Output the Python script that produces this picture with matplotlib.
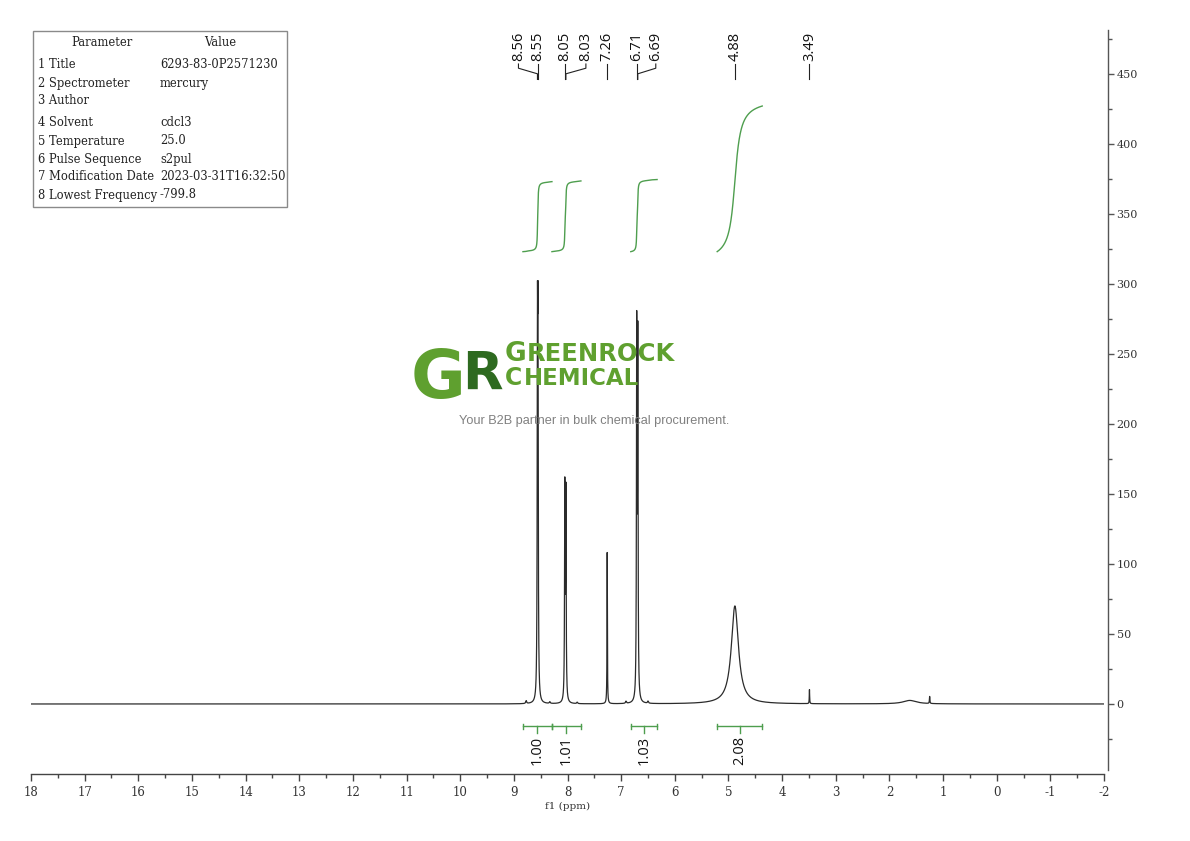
import numpy as np
import matplotlib
matplotlib.use("Agg")
import matplotlib.pyplot as plt
from matplotlib.ticker import FixedLocator, MultipleLocator
from matplotlib.patches import Rectangle

# ---------------- data ----------------
peak_ppm = [8.56, 8.55, 8.05, 8.03, 7.26, 6.71, 6.69, 4.88, 3.49, 1.62, 1.25,
            8.77, 8.33, 7.82, 6.91, 6.50]
peak_height = [236, 236, 150, 146, 108, 260, 252, 70, 10, 2.5, 5,
               2.0, 1.2, 1.0, 1.5, 1.5]
peak_hwhm = [0.006, 0.006, 0.006, 0.006, 0.004, 0.006, 0.006, 0.08, 0.004, 0.15, 0.005,
             0.01, 0.01, 0.01, 0.01, 0.01]

label_ppm = [8.56, 8.55, 8.05, 8.03, 7.26, 6.71, 6.69, 4.88, 3.49]

integral_start = [8.83, 8.29, 6.82, 5.21]
integral_end = [8.29, 7.75, 6.33, 4.37]
integral_value = [1.00, 1.01, 1.03, 2.08]

x_ticks = list(range(18, -3, -1))
y_ticks = list(range(0, 451, 50))

param_names = ["1 Title", "2 Spectrometer", "3 Author", "4 Solvent", "5 Temperature",
               "6 Pulse Sequence", "7 Modification Date", "8 Lowest Frequency"]
param_values = ["6293-83-0P2571230", "mercury", "", "cdcl3", "25.0",
                "s2pul", "2023-03-31T16:32:50", "-799.8"]

# ---------------- figure ----------------
W, H = 1190, 841
plt.rcParams["axes.unicode_minus"] = False
fig = plt.figure(figsize=(W / 100, H / 100), dpi=100)
fig.patch.set_facecolor("white")

def fx(px):
    return px / W

def fy(py):
    return 1 - py / H

ax_l, ax_r, ax_t, ax_b = 31, 1104, 29, 774
ax = fig.add_axes([fx(ax_l), fy(ax_b), (ax_r - ax_l) / W, (ax_b - ax_t) / H])
ax.set_xlim(18, -2)
ax.set_ylim(-50, 482)
ppm_per_px = 20 / (ax_r - ax_l)

# spectrum
x = np.linspace(18, -2, 40001)
y = np.zeros_like(x)
for p, h, g in zip(peak_ppm, peak_height, peak_hwhm):
    y += h / (1 + ((x - p) / g) ** 2)
ax.plot(x, y, color="#2b2b2b", lw=0.9, zorder=3)

# integrals
green = "#4e9e4e"
int_base = 323
int_scale = 50
yb = -16
for a, b, v in zip(integral_start, integral_end, integral_value):
    m = (x <= a) & (x >= b)
    xs = x[m]
    cum = np.cumsum(y[m])
    cum = cum / cum[-1]
    ax.plot(xs, int_base + int_scale * v * cum, color=green, lw=1.0, zorder=3)
    c = (a + b) / 2
    ax.plot([a, b], [yb, yb], color=green, lw=1.0)
    ax.plot([a, a], [yb - 2, yb + 2], color=green, lw=1.0)
    ax.plot([b, b], [yb - 2, yb + 2], color=green, lw=1.0)
    ax.plot([c, c], [yb, yb - 5], color=green, lw=1.0)
    ax.text(c, -23, f"{v:.2f}", rotation=90, ha="center", va="top",
            fontsize=10.5, family="Open Sans", color="#111")

# peak labels
shift_px = [-19, 0, 0, 20, 0, 0, 18, 0, 0]
for p, s in zip(label_ppm, shift_px):
    lx = p - s * ppm_per_px
    ax.text(lx, 459, f"{p:.2f}", rotation=90, ha="center", va="bottom",
            fontsize=10.5, family="Open Sans", color="#111")
    ax.plot([lx, lx, p, p], [457, 454, 450, 446], color="#222", lw=0.8)

# axes styling
for s in ["left", "top"]:
    ax.spines[s].set_visible(False)
ax.spines["bottom"].set_color("#444")
ax.spines["right"].set_color("#555")
ax.spines["right"].set_position(("outward", 3))
ax.spines["right"].set_bounds(-47, 481)
ax.spines["bottom"].set_linewidth(1.0)
ax.spines["right"].set_linewidth(1.0)

ax.set_xticks(x_ticks)
ax.set_xticklabels([str(t) for t in x_ticks])
ax.xaxis.set_minor_locator(MultipleLocator(0.5))
ax.tick_params(axis="x", which="major", direction="out", length=5, width=1,
               colors="#444", labelsize=8.5, pad=4)
ax.tick_params(axis="x", which="minor", direction="out", length=3, width=1, colors="#444")

ax.yaxis.tick_right()
ax.set_yticks(y_ticks)
ax.set_yticklabels([str(t) for t in y_ticks])
ax.yaxis.set_minor_locator(FixedLocator(list(range(-25, 480, 50))))
ax.tick_params(axis="y", which="major", direction="out", length=4, width=1,
               colors="#555", labelsize=8, pad=2)
ax.tick_params(axis="y", which="minor", direction="out", length=3, width=1, colors="#555")
for lab in ax.get_xticklabels() + ax.get_yticklabels():
    lab.set_family("DejaVu Serif")
    lab.set_color("#333")

ax.set_xlabel("f1 (ppm)", family="DejaVu Serif", fontsize=7.5, color="#333", labelpad=2)

# parameter table
fig.add_artist(Rectangle((fx(33), fy(207)), (287 - 33) / W, (207 - 31) / H,
                         transform=fig.transFigure, fill=False, ec="#8a8a8a", lw=1))
tfont = dict(family="DejaVu Serif", fontsize=8.3, color="#222", va="center")
fig.text(fx(102), fy(43), "Parameter", ha="center", **tfont)
fig.text(fx(220), fy(43), "Value", ha="center", **tfont)
row_y = [65, 83, 101, 123, 141, 159, 177, 195]
for ry, n, v in zip(row_y, param_names, param_values):
    fig.text(fx(38), fy(ry), n, ha="left", **tfont)
    fig.text(fx(160), fy(ry), v, ha="left", **tfont)

# watermark logo
lg = "#5fa02f"
dg = "#2e6a20"
fig.text(fx(411), fy(398), "G", fontsize=48, weight="bold", color=lg,
         family="DejaVu Sans", va="baseline", ha="left", zorder=5)
fig.text(fx(462), fy(390), "R", fontsize=38, weight="bold", color=dg,
         family="DejaVu Sans", va="baseline", ha="left", zorder=6)
fig.text(fx(505), fy(361), "G", fontsize=19, weight="bold", color=lg,
         family="DejaVu Sans", va="baseline", ha="left", zorder=5)
fig.text(fx(527), fy(361), "REENROCK", fontsize=17.5, weight="bold", color=lg,
         family="DejaVu Sans", va="baseline", ha="left", zorder=5)
fig.text(fx(505), fy(385), "C", fontsize=17, weight="bold", color=lg,
         family="DejaVu Sans", va="baseline", ha="left", zorder=5)
fig.text(fx(524), fy(385), "HEMICAL", fontsize=16.5, weight="bold", color=lg,
         family="DejaVu Sans", va="baseline", ha="left", zorder=5)
fig.text(fx(594), fy(421), "Your B2B partner in bulk chemical procurement.",
         fontsize=9.2, color="#808080", family="Liberation Sans", ha="center", va="center",
         zorder=5)

fig.savefig("out.png", dpi=100, facecolor="white")
